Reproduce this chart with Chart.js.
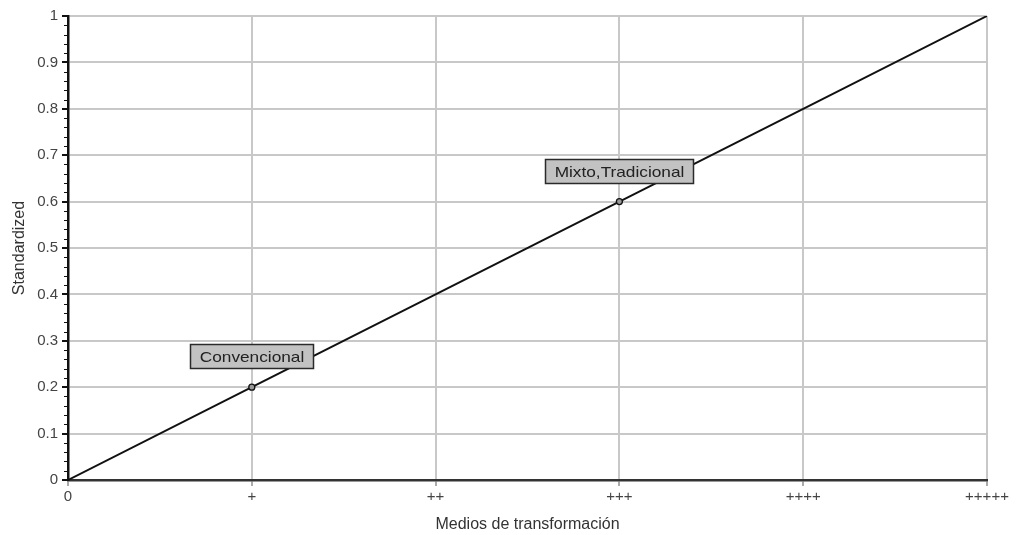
<!DOCTYPE html>
<html><head><meta charset="utf-8">
<script src="https://cdn.jsdelivr.net/npm/chart.js@4/dist/chart.umd.min.js"></script>
<style>html,body{margin:0;padding:0;background:#fff}#wrap{width:1019px;height:535px}</style>
</head><body><div id="wrap"><canvas id="c"></canvas></div>
<script>
const categories = ['0', '+', '++', '+++', '++++', '+++++'];
const lineValues = [0, 0.2, 0.4, 0.6, 0.8, 1];
const pointIndices = [1, 3];
const pointLabels = ['Convencional', 'Mixto,Tradicional'];
const yTicks = [0, 0.1, 0.2, 0.3, 0.4, 0.5, 0.6, 0.7, 0.8, 0.9, 1];

const lineData = lineValues.map((v, i) => ({x: i, y: v}));
const markData = pointIndices.map(i => ({x: i, y: lineValues[i]}));

const FONT = "'Liberation Sans', Arial, sans-serif";

const extras = {
  id: 'extras',
  afterDatasetsDraw(chart) {
    const ctx = chart.ctx;
    const ys = chart.scales.y;
    // minor ticks on y axis
    ctx.save();
    ctx.strokeStyle = '#111';
    ctx.lineWidth = 1;
    for (let i = 0; i < yTicks.length - 1; i++) {
      for (let k = 1; k < 5; k++) {
        const v = yTicks[i] + (yTicks[i + 1] - yTicks[i]) * k / 5;
        const py = Math.round(ys.getPixelForValue(v)) + 0.5;
        ctx.beginPath();
        ctx.moveTo(ys.right - 4, py);
        ctx.lineTo(ys.right, py);
        ctx.stroke();
      }
    }
    ctx.restore();
    // label boxes
    const meta = chart.getDatasetMeta(1);
    const sx = 1.15;
    ctx.save();
    ctx.font = '15px ' + FONT;
    meta.data.forEach((el, i) => {
      const text = pointLabels[i];
      const tw = ctx.measureText(text).width * sx;
      const w = Math.round(tw + 18), h = 24;
      const cx = el.x;
      const bx = Math.round(cx - w / 2) + 0.5;
      const by = Math.round(el.y - 19 - h) + 0.5;
      ctx.fillStyle = '#c2c2c2';
      ctx.fillRect(bx, by, w, h);
      ctx.strokeStyle = '#2a2a2a';
      ctx.lineWidth = 1.5;
      ctx.strokeRect(bx, by, w, h);
      ctx.fillStyle = '#222';
      ctx.textAlign = 'center';
      ctx.textBaseline = 'middle';
      ctx.save();
      ctx.translate(bx + w / 2, by + h / 2 + 1);
      ctx.scale(sx, 1);
      ctx.fillText(text, 0, 0);
      ctx.restore();
    });
    ctx.restore();
  }
};

new Chart(document.getElementById('c'), {
  type: 'scatter',
  data: {
    datasets: [
      {
        data: lineData,
        showLine: true,
        borderColor: '#111',
        borderWidth: 2,
        pointRadius: 0,
        pointHoverRadius: 0,
        order: 2
      },
      {
        data: markData,
        showLine: false,
        pointRadius: 3,
        pointBorderWidth: 1.3,
        borderColor: '#111',
        backgroundColor: '#999',
        order: 1
      }
    ]
  },
  options: {
    responsive: true,
    maintainAspectRatio: false,
    animation: false,
    layout: {padding: {left: 0, right: 32, top: 16, bottom: 0}},
    plugins: {legend: {display: false}, tooltip: {enabled: false}},
    scales: {
      x: {
        type: 'linear',
        min: 0, max: categories.length - 1,
        afterFit(s) { s.height = 55; },
        ticks: {
          stepSize: 1,
          callback: v => categories[v],
          color: '#444',
          font: {family: FONT, size: 15},
          padding: 2,
          maxRotation: 0
        },
        grid: {color: '#c8c8c8', lineWidth: 2, tickLength: 6, tickColor: '#aaa'},
        border: {color: '#333', width: 2.5},
        title: {
          display: true,
          text: 'Medios de transformación',
          color: '#333',
          font: {family: FONT, size: 16},
          padding: {top: 0, bottom: 1}
        }
      },
      y: {
        min: 0, max: 1,
        afterFit(s) { s.width = 68; },
        afterBuildTicks(s) { s.ticks = yTicks.map(v => ({value: v})); },
        ticks: {
          callback: v => String(Math.round(v * 10) / 10),
          color: '#444',
          font: {family: FONT, size: 15},
          padding: 4
        },
        grid: {color: '#c8c8c8', lineWidth: 2, tickLength: 6, tickColor: '#111'},
        border: {color: '#111', width: 2.5},
        title: {
          display: true,
          text: 'Standardized',
          color: '#333',
          font: {family: FONT, size: 16},
          padding: {top: 10, bottom: 0}
        }
      }
    }
  },
  plugins: [extras]
});
</script></body></html>
